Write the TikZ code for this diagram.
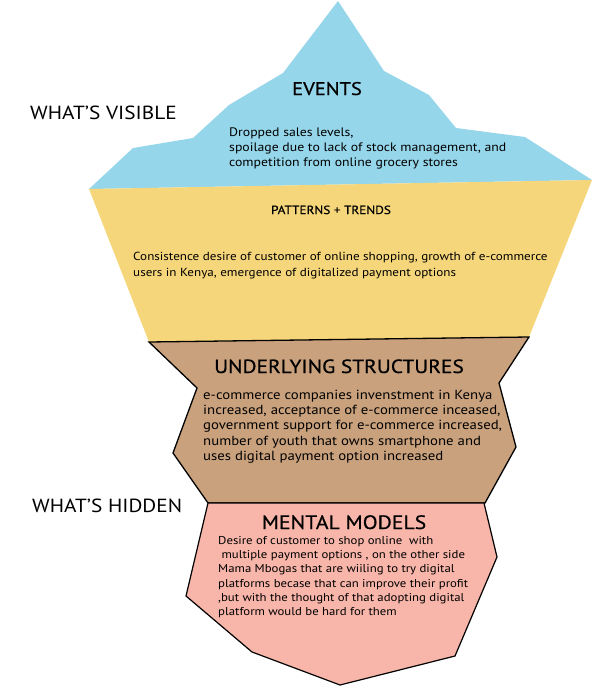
\documentclass[tikz,border=0pt]{standalone}
\usepackage{fontspec}
\setmainfont{PT Sans}[FakeStretch=1.12]
\newfontfamily\titlefont{PT Sans}[FakeStretch=1.12, FakeBold=0.6]

\definecolor{eventsblue}{RGB}{150,214,234}
\definecolor{trendsyellow}{RGB}{246,214,122}
\definecolor{structbrown}{RGB}{201,161,125}
\definecolor{modelspink}{RGB}{248,181,169}

\begin{document}
\begin{tikzpicture}[x=1pt, y=-1pt, nodes={inner sep=0pt},
    side/.style={anchor=base west, font=\fontsize{19}{19}\selectfont},
    title/.style={anchor=base, font=\titlefont\fontsize{18.3}{18.3}\selectfont},
    body/.style={anchor=north west, align=left, font=\fontsize{12.3}{15}\selectfont}]
    \useasboundingbox (0,0) rectangle (592,688);

    \fill[eventsblue] (89,189) -- (133,148) -- (193,138) -- (229,105) -- (283,73)
        -- (338,1) -- (384,71) -- (429,95) -- (456,128) -- (525,137)
        -- (592,180) -- cycle;
    \fill[trendsyellow] (89,189) -- (592,180) -- (529,337) -- (149,342) -- cycle;
    \draw[fill=structbrown, line width=1.3pt, line join=miter] (149,342) -- (529,337)
        -- (499,383) -- (516,447) -- (485,503) -- (208,503) -- (173,453)
        -- (197,388) -- cycle;
    \draw[fill=modelspink, line width=1.2pt] (208,503) -- (484,503) -- (497,557)
        -- (455,656) -- (340,685) -- (252,652) -- (186,596) -- cycle;

    \node[side] (visible) at (30,119) {WHAT’S VISIBLE};
    \node[side] (hidden) at (32,512) {WHAT’S HIDDEN};

    \node[title] (events) at (327,95) {EVENTS};
    \node[body] (eventstxt) at (229,128) {Dropped sales levels,\\
        spoilage due to lack of stock management, and\\
        competition from online grocery stores};

    \node[title, font=\titlefont\fontsize{11.8}{11.8}\selectfont] (trends) at (331,214) {PATTERNS + TRENDS};
    \node[body, font=\fontsize{11.7}{16}\selectfont] (trendstxt) at (133,252)
        {Consistence desire of customer of online shopping, growth of e-commerce\\
        users in Kenya, emergence of digitalized payment options};

    \node[title, font=\titlefont\fontsize{19.1}{19.1}\selectfont] (structures) at (339,373) {UNDERLYING STRUCTURES};
    \node[body, font=\fontsize{13.2}{15.2}\selectfont] (structurestxt) at (203,390)
        {e-commerce companies invenstment in Kenya\\
        increased, acceptance of e-commerce inceased,\\
        government support for e-commerce increased,\\
        number of youth that owns smartphone and\\
        uses digital payment option increased};

    \node[title, font=\titlefont\fontsize{19.4}{19.4}\selectfont] (models) at (344,529) {MENTAL MODELS};
    \node[body, font=\fontsize{11.4}{14.3}\selectfont] (modelstxt) at (218,536)
        {Desire of customer to shop online\ \ with\\
        \ multiple payment options , on the other side\\
        Mama Mbogas that are wiiling to try digital\\
        platforms becase that can improve their profit\\
        ,but with the thought of that adopting digital\\
        platform would be hard for them};
\end{tikzpicture}
\end{document}
